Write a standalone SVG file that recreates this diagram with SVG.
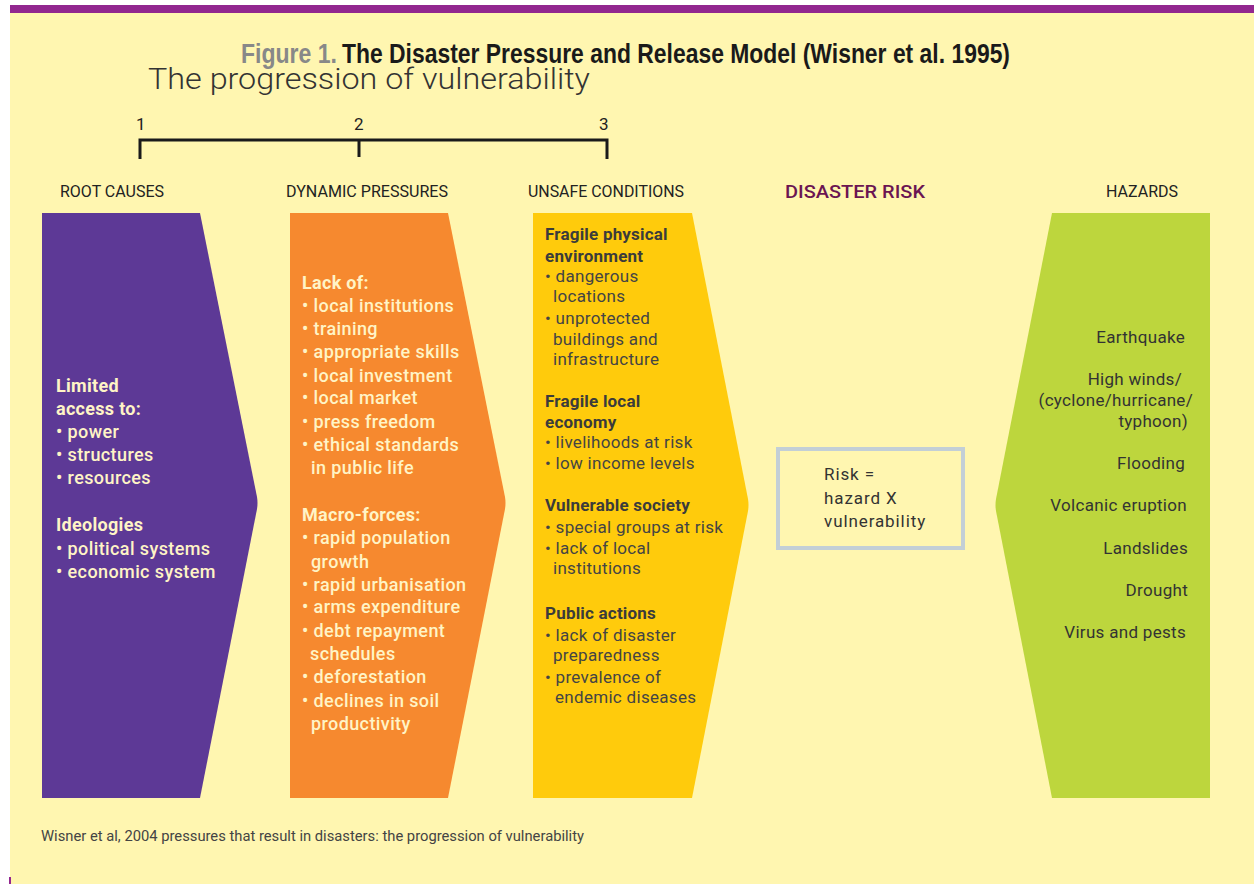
<svg xmlns="http://www.w3.org/2000/svg" width="1254" height="884" viewBox="0 0 1254 884">
  <style>
    .hdr { font-family: Roboto, "Liberation Sans", sans-serif; font-size: 16px; fill: #222; }
    .num { font-family: Roboto, "Liberation Sans", sans-serif; font-size: 17px; fill: #222; }
    .lt  { font-family: Roboto, "Liberation Sans", sans-serif; font-size: 18px; font-weight: 500; letter-spacing: 0.4px; fill: #fff4c6; }
    .lth { font-family: Roboto, "Liberation Sans", sans-serif; font-size: 18px; font-weight: 700; letter-spacing: 0.3px; fill: #fff4c6; }
    .dk  { font-family: Roboto, "Liberation Sans", sans-serif; font-size: 17px; font-weight: 400; letter-spacing: 0.3px; fill: #444; }
    .dkh { font-family: Roboto, "Liberation Sans", sans-serif; font-size: 17px; font-weight: 700; letter-spacing: 0.2px; fill: #3b3b3b; }
    .hz  { font-family: Roboto, "Liberation Sans", sans-serif; font-size: 17px; font-weight: 400; letter-spacing: 0.3px; fill: #333; text-anchor: end; }
    .rk  { font-family: Roboto, "Liberation Sans", sans-serif; font-size: 17px; font-weight: 400; letter-spacing: 0.9px; fill: #333; }
    .bracket { fill: none; stroke: #1a1a1a; stroke-width: 3; }
  </style>

  <!-- page background and top band -->
  <rect x="0" y="0" width="1254" height="884" fill="#ffffff"/>
  <rect x="10" y="12" width="1244" height="872" fill="#fff6b0"/>
  <rect x="10" y="5" width="1244" height="8" fill="#92278f"/>
  <rect x="9" y="877" width="2" height="7" fill="#92278f"/>

  <!-- titles -->
  <text x="241" y="63" font-family="'Liberation Sans', sans-serif" font-size="28" font-weight="bold" fill="#888888" textLength="96" lengthAdjust="spacingAndGlyphs">Figure 1.</text>
  <text x="342" y="63" font-family="'Liberation Sans', sans-serif" font-size="28" font-weight="bold" fill="#1a1a1a" textLength="668" lengthAdjust="spacingAndGlyphs">The Disaster Pressure and Release Model (Wisner et al. 1995)</text>
  <text x="148" y="89" font-family="Roboto, 'Liberation Sans', sans-serif" font-size="30" font-weight="300" fill="#333" textLength="442" lengthAdjust="spacingAndGlyphs">The progression of vulnerability</text>

  <!-- progression scale -->
  <g id="scale">
    <text class="num" x="136" y="130">1</text>
    <text class="num" x="354" y="130">2</text>
    <text class="num" x="599" y="130">3</text>
    <path class="bracket" d="M140 159 V140 H607 V159 M359 140 V157"/>
  </g>

  <!-- column headings -->
  <text class="hdr" x="60" y="197" textLength="104" lengthAdjust="spacingAndGlyphs">ROOT CAUSES</text>
  <text class="hdr" x="286" y="197" textLength="162" lengthAdjust="spacingAndGlyphs">DYNAMIC PRESSURES</text>
  <text class="hdr" x="528" y="197" textLength="156" lengthAdjust="spacingAndGlyphs">UNSAFE CONDITIONS</text>
  <text x="785" y="198" font-family="Roboto, 'Liberation Sans', sans-serif" font-size="19" font-weight="500" fill="#6b1552" textLength="140" lengthAdjust="spacingAndGlyphs">DISASTER RISK</text>
  <text class="hdr" x="1106" y="197" textLength="72" lengthAdjust="spacingAndGlyphs">HAZARDS</text>

  <!-- root causes -->
  <g id="root-causes">
    <path d="M42 213 H200 L257 497 Q258 503 257 509 L200 798 H42 Z" fill="#5d3996"/>
    <text class="lth" x="56" y="392">Limited</text>
    <text class="lth" x="56" y="415">access to:</text>
    <text class="lt" x="56" y="438">• power</text>
    <text class="lt" x="56" y="461">• structures</text>
    <text class="lt" x="56" y="484">• resources</text>
    <text class="lth" x="56" y="531">Ideologies</text>
    <text class="lt" x="56" y="555">• political systems</text>
    <text class="lt" x="56" y="578">• economic system</text>
  </g>

  <!-- dynamic pressures -->
  <g id="dynamic-pressures">
    <path d="M290 213 H448 L505 497 Q506 503 505 509 L448 798 H290 Z" fill="#f6892f"/>
    <text class="lth" x="302" y="289">Lack of:</text>
    <text class="lt" x="302" y="312">• local institutions</text>
    <text class="lt" x="302" y="335">• training</text>
    <text class="lt" x="302" y="358">• appropriate skills</text>
    <text class="lt" x="302" y="382">• local investment</text>
    <text class="lt" x="302" y="404">• local market</text>
    <text class="lt" x="302" y="428">• press freedom</text>
    <text class="lt" x="302" y="451">• ethical standards</text>
    <text class="lt" x="311" y="474">in public life</text>
    <text class="lth" x="302" y="521">Macro-forces:</text>
    <text class="lt" x="302" y="544">• rapid population</text>
    <text class="lt" x="311" y="568">growth</text>
    <text class="lt" x="302" y="591">• rapid urbanisation</text>
    <text class="lt" x="302" y="613">• arms expenditure</text>
    <text class="lt" x="302" y="637">• debt repayment</text>
    <text class="lt" x="310" y="660">schedules</text>
    <text class="lt" x="302" y="683">• deforestation</text>
    <text class="lt" x="302" y="707">• declines in soil</text>
    <text class="lt" x="311" y="730">productivity</text>
  </g>

  <!-- unsafe conditions -->
  <g id="unsafe-conditions">
    <path d="M533 213 H692 L748 499 Q749 505 748 511 L692 798 H533 Z" fill="#ffcb0c"/>
    <text class="dkh" x="545" y="240">Fragile physical</text>
    <text class="dkh" x="545" y="262">environment</text>
    <text class="dk" x="545" y="282">• dangerous</text>
    <text class="dk" x="553" y="302">locations</text>
    <text class="dk" x="545" y="324">• unprotected</text>
    <text class="dk" x="553" y="345">buildings and</text>
    <text class="dk" x="553" y="365">infrastructure</text>
    <text class="dkh" x="545" y="407">Fragile local</text>
    <text class="dkh" x="545" y="428">economy</text>
    <text class="dk" x="545" y="448">• livelihoods at risk</text>
    <text class="dk" x="545" y="469">• low income levels</text>
    <text class="dkh" x="545" y="511">Vulnerable society</text>
    <text class="dk" x="545" y="533">• special groups at risk</text>
    <text class="dk" x="545" y="554">• lack of local</text>
    <text class="dk" x="553" y="574">institutions</text>
    <text class="dkh" x="545" y="619">Public actions</text>
    <text class="dk" x="545" y="641">• lack of disaster</text>
    <text class="dk" x="553" y="661">preparedness</text>
    <text class="dk" x="545" y="683">• prevalence of</text>
    <text class="dk" x="555" y="703">endemic diseases</text>
  </g>

  <!-- disaster risk -->
  <g id="disaster-risk">
    <rect x="778" y="449" width="185" height="99" fill="#fff6b0" stroke="#c3cfd6" stroke-width="4"/>
    <text class="rk" x="824" y="480">Risk =</text>
    <text class="rk" x="824" y="504">hazard X</text>
    <text class="rk" x="824" y="527">vulnerability</text>
  </g>

  <!-- hazards -->
  <g id="hazards">
    <path d="M1052 213 H1210 V798 H1052 L996 511 Q995 505 996 499 Z" fill="#bdd63d"/>
    <text class="hz" x="1185" y="343">Earthquake</text>
    <text class="hz" x="1182" y="385">High winds/</text>
    <text class="hz" x="1193" y="406">(cyclone/hurricane/</text>
    <text class="hz" x="1188" y="427">typhoon)</text>
    <text class="hz" x="1185" y="469">Flooding</text>
    <text class="hz" x="1187" y="511">Volcanic eruption</text>
    <text class="hz" x="1188" y="554">Landslides</text>
    <text class="hz" x="1188" y="596">Drought</text>
    <text class="hz" x="1186" y="638">Virus and pests</text>
  </g>

  <!-- source line -->
  <text x="41" y="841" font-family="Roboto, 'Liberation Sans', sans-serif" font-size="14" fill="#444" textLength="543" lengthAdjust="spacingAndGlyphs">Wisner et al, 2004 pressures that result in disasters: the progression of vulnerability</text>
</svg>
